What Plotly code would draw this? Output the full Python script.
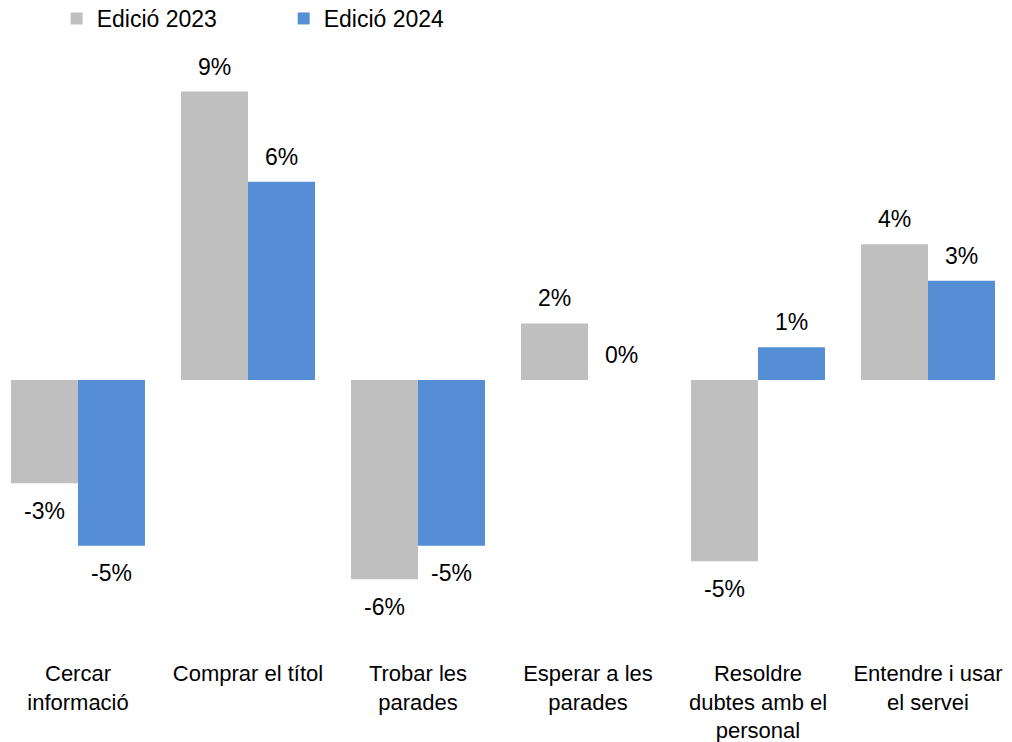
import plotly.graph_objects as go

# Canvi percentual per aspecte del servei, edicions 2023 i 2024
categories = [
    "Cercar<br>informació",
    "Comprar el títol",
    "Trobar les<br>parades",
    "Esperar a les<br>parades",
    "Resoldre<br>dubtes amb el<br>personal",
    "Entendre i usar<br>el servei",
]
values_2023 = [-3.10, 8.66, -5.98, 1.70, -5.44, 4.08]
values_2024 = [-4.98, 5.95, -4.98, 0.00, 0.98, 2.98]
series_names = ["Edició 2023", "Edició 2024"]

GRAY = "#BFBFBF"
BLUE = "#558ED5"
FONT = "Liberation Sans, Arial, sans-serif"
BARGAP = 0.212
TOP, BOTTOM = 40, 84          # marges del gràfic (px)
ZERO_Y, PX_PER_PCT = 380, 33.3  # posició de la línia zero i escala vertical
plot_h = 742 - TOP - BOTTOM

x_idx = list(range(len(categories)))

fig = go.Figure()
fig.add_trace(go.Bar(x=x_idx, y=values_2023, name=series_names[0],
                     marker=dict(color=GRAY, line=dict(width=0))))
fig.add_trace(go.Bar(x=x_idx, y=values_2024, name=series_names[1],
                     marker=dict(color=BLUE, line=dict(width=0))))

# Etiquetes de valor a sobre (o a sota) de cada barra
half = (1 - BARGAP) / 4
for series, sign in ((values_2023, -1), (values_2024, 1)):
    for i, v in enumerate(series):
        fig.add_annotation(
            x=i + sign * half, y=v, xref="x", yref="y",
            text=f"{round(v):.0f}%", showarrow=False,
            yanchor="middle", xanchor="center",
            yshift=25 if v >= 0 else -27.5,
            font=dict(family=FONT, size=23, color="#000000"),
        )

fig.update_layout(
    width=1012, height=742,
    margin=dict(l=0, r=0, t=TOP, b=BOTTOM, autoexpand=False),
    paper_bgcolor="white", plot_bgcolor="white",
    barmode="group", bargap=BARGAP, bargroupgap=0,
    font=dict(family=FONT, size=23, color="#000000"),
    showlegend=True,
    legend=dict(orientation="h", x=0.056, y=1 + 43 / plot_h,
                xanchor="left", yanchor="top",
                font=dict(family=FONT, size=23, color="#000000"),
                itemwidth=30, entrywidth=182, bgcolor="rgba(0,0,0,0)"),
    xaxis=dict(range=[-78 / 170, -78 / 170 + 1012 / 170], automargin=False,
               tickmode="array", tickvals=x_idx, ticktext=categories,
               showgrid=False, zeroline=False, showline=False, ticks="",
               tickfont=dict(family=FONT, size=22, color="#000000")),
    yaxis=dict(range=[-(742 - BOTTOM - ZERO_Y) / PX_PER_PCT,
                      (ZERO_Y - TOP) / PX_PER_PCT], automargin=False,
               visible=False, showgrid=False, zeroline=False),
)

fig.write_html("out.html")
